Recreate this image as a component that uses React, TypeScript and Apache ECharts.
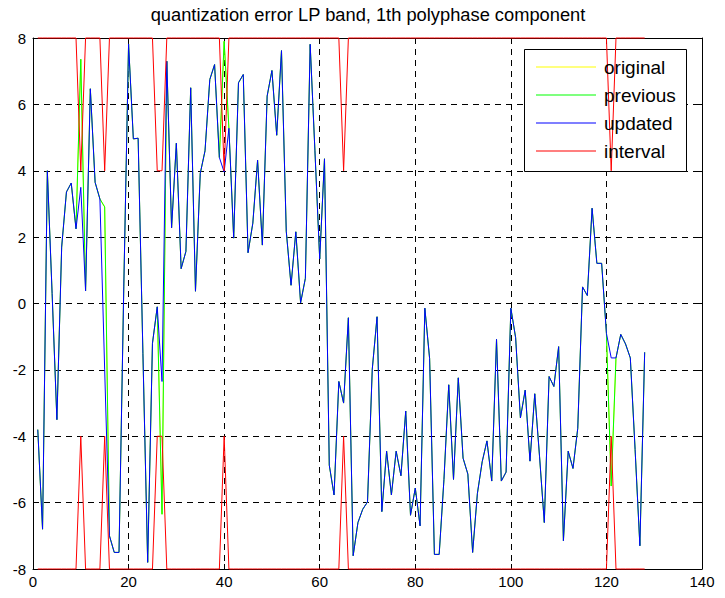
import React, { useEffect, useRef } from "react";
import * as echarts from "echarts";

// Sample index of each polyphase coefficient
const sampleCount = 128;

// Quantization error after the update step
const updated = [
  -3.8, -6.8, 4.0, 0.3, -3.5, 1.7, 3.36, 3.63, 2.25, 3.5,
  0.38, 6.47, 3.65, 3.15, -2.0, -7.0, -7.5, -7.5, 0.5, 7.82,
  4.96, 4.98, -1.5, -7.8, -1.2, -0.1, -2.35, 7.3, 2.28, 4.83,
  1.05, 1.57, 6.5, 0.37, 3.92, 4.6, 6.75, 7.2, 4.4, 3.96,
  5.28, 1.97, 6.65, 6.9, 1.53, 2.42, 4.32, 1.76, 6.25, 7.02,
  5.07, 7.62, 2.18, 0.55, 2.16, 0.02, 0.76, 7.81, 4.6, 1.34,
  4.36, -4.87, -5.77, -2.35, -3.0, -0.43, -7.6, -6.6, -6.2, -5.98,
  -1.98, -0.4, -6.27, -4.45, -5.77, -4.45, -5.19, -3.24, -6.38, -5.56,
  -6.7, -0.14, -1.66, -7.56, -7.56, -5.3, -2.45, -5.3, -2.24, -4.66,
  -5.14, -7.5, -5.72, -4.77, -4.14, -5.35, -1.08, -5.35, -5.08, -0.14,
  -1.03, -3.45, -2.61, -4.75, -2.72, -4.6, -6.6, -2.2, -2.5, -1.3,
  -7.15, -4.45, -4.97, -3.76, 0.5, 0.24, 2.87, 1.21, 1.21, -0.9,
  -1.64, -1.64, -0.93, -1.22, -1.64, -4.4, -7.3, -1.47,
];

// Quantization error of the previous iteration
const previous = [
  -3.8, -6.8, 4.0, 0.3, -3.5, 1.7, 3.36, 3.63, 2.25, 7.36,
  0.38, 6.47, 3.65, 3.15, 2.91, -7.0, -7.5, -7.5, 0.5, 7.82,
  4.96, 4.98, -1.5, -7.8, -1.2, -0.1, -6.35, 7.3, 2.28, 4.83,
  1.05, 1.57, 6.5, 0.37, 3.92, 4.6, 6.75, 7.2, 4.4, 7.9,
  5.28, 1.97, 6.65, 6.9, 1.53, 2.42, 4.32, 1.76, 6.25, 7.02,
  5.07, 7.62, 2.18, 0.55, 2.16, 0.02, 0.76, 7.81, 4.6, 1.34,
  4.36, -4.87, -5.77, -2.35, -3.0, -0.43, -7.6, -6.6, -6.2, -5.98,
  -1.98, -0.4, -6.27, -4.45, -5.77, -4.45, -5.19, -3.24, -6.38, -5.56,
  -6.7, -0.14, -1.66, -7.56, -7.56, -5.3, -2.45, -5.3, -2.24, -4.66,
  -5.14, -7.5, -5.72, -4.77, -4.14, -5.35, -1.08, -5.35, -5.08, -0.14,
  -1.03, -3.45, -2.61, -4.75, -2.72, -4.6, -6.6, -2.2, -2.5, -1.3,
  -7.15, -4.45, -4.97, -3.76, 0.5, 0.24, 2.87, 1.21, 1.21, -0.9,
  -5.5, -1.64, -0.93, -1.22, -1.64, -4.4, -7.3, -1.47,
];

// Quantization error of the original coefficients
const original = [
  -3.8, -6.8, 4.0, 0.3, -3.5, 1.7, 3.36, 3.63, 2.25, 7.36,
  0.38, 6.47, 3.65, 3.15, 2.91, -7.0, -7.5, -7.5, 0.5, 7.82,
  4.96, 4.98, -1.5, -7.8, -1.2, -0.1, -6.35, 7.3, 2.28, 4.83,
  1.05, 1.57, 6.5, 0.37, 3.92, 4.6, 6.75, 7.2, 4.4, 7.9,
  5.28, 1.97, 6.65, 6.9, 1.53, 2.42, 4.32, 1.76, 6.25, 7.02,
  5.07, 7.62, 2.18, 0.55, 2.16, 0.02, 0.76, 7.81, 4.6, 1.34,
  4.36, -4.87, -5.77, -2.35, -3.0, -0.43, -7.6, -6.6, -6.2, -5.98,
  -1.98, -0.4, -6.27, -4.45, -5.77, -4.45, -5.19, -3.24, -6.38, -5.56,
  -6.7, -0.14, -1.66, -7.56, -7.56, -5.3, -2.45, -5.3, -2.24, -4.66,
  -5.14, -7.5, -5.72, -4.77, -4.14, -5.35, -1.08, -5.35, -5.08, -0.14,
  -1.03, -3.45, -2.61, -4.75, -2.72, -4.6, -6.6, -2.2, -2.5, -1.3,
  -7.15, -4.45, -4.97, -3.76, 0.5, 0.24, 2.87, 1.21, 1.21, -0.9,
  -5.5, -1.64, -0.93, -1.22, -1.64, -4.4, -7.3, -1.47,
];

// Upper bound of the allowed interval
const intervalUpper = [
  8, 8, 8, 8, 8, 8, 8, 8, 8, 4,
  8, 8, 8, 8, 4, 8, 8, 8, 8, 8,
  8, 8, 8, 8, 8, 4, 4, 8, 8, 8,
  8, 8, 8, 8, 8, 8, 8, 8, 8, 4,
  8, 8, 8, 8, 8, 8, 8, 8, 8, 8,
  8, 8, 8, 8, 8, 8, 8, 8, 8, 8,
  8, 8, 8, 8, 4, 8, 8, 8, 8, 8,
  8, 8, 8, 8, 8, 8, 8, 8, 8, 8,
  8, 8, 8, 8, 8, 8, 8, 8, 8, 8,
  8, 8, 8, 8, 8, 8, 8, 8, 8, 8,
  8, 8, 8, 8, 8, 8, 8, 8, 8, 8,
  8, 8, 8, 8, 8, 8, 8, 8, 8, 8,
  4, 8, 8, 8, 8, 8, 8, 8,
];

// Lower bound of the allowed interval
const intervalLower = [
  -8, -8, -8, -8, -8, -8, -8, -8, -8, -4,
  -8, -8, -8, -8, -4, -8, -8, -8, -8, -8,
  -8, -8, -8, -8, -8, -4, -4, -8, -8, -8,
  -8, -8, -8, -8, -8, -8, -8, -8, -8, -4,
  -8, -8, -8, -8, -8, -8, -8, -8, -8, -8,
  -8, -8, -8, -8, -8, -8, -8, -8, -8, -8,
  -8, -8, -8, -8, -4, -8, -8, -8, -8, -8,
  -8, -8, -8, -8, -8, -8, -8, -8, -8, -8,
  -8, -8, -8, -8, -8, -8, -8, -8, -8, -8,
  -8, -8, -8, -8, -8, -8, -8, -8, -8, -8,
  -8, -8, -8, -8, -8, -8, -8, -8, -8, -8,
  -8, -8, -8, -8, -8, -8, -8, -8, -8, -8,
  -4, -8, -8, -8, -8, -8, -8, -8,
];

const titleText = "quantization error LP band, 1th polyphase component";
const legendNames = ["original", "previous", "updated", "interval"];

const FONT = '"Liberation Sans", Arial, Helvetica, sans-serif';

const toPoints = (values: number[]) =>
  values.slice(0, sampleCount).map((v, i) => [i + 1, v]);

export default function App() {
  const ref = useRef<HTMLDivElement>(null);

  useEffect(() => {
    document.body.style.margin = "0";
    if (!ref.current) return;
    const chart = echarts.init(ref.current, undefined, { renderer: "svg" });

    const lineSeries = (name: string, values: number[], color: string) => ({
      name,
      type: "line",
      data: toPoints(values),
      symbol: "none",
      clip: false,
      lineStyle: { color, width: 1 },
      itemStyle: { color },
      emphasis: { disabled: true },
    });

    const tickStyle = { inside: true, length: 5, lineStyle: { color: "#000", width: 1 } };
    const lineStyle = { show: true, onZero: false, lineStyle: { color: "#000", width: 1 } };
    const gridLine = { show: true, lineStyle: { color: "#000", width: 1, type: [6, 5] } };

    chart.setOption({
      animation: false,
      grid: { left: 33, right: 23, top: 38, bottom: 29, containLabel: false },
      graphic: [
        {
          type: "text",
          x: 368,
          y: 14,
          style: {
            text: titleText,
            fill: "#000",
            font: `18.3px ${FONT}`,
            textAlign: "center",
            textVerticalAlign: "middle",
            align: "center",
            verticalAlign: "middle",
          },
        },
        // legend frame
        {
          type: "rect",
          z: 3,
          shape: { x: 524.5, y: 49.5, width: 162, height: 122 },
          style: { fill: "#fff", stroke: "#000", lineWidth: 1 },
        },
      ],
      legend: {
        data: legendNames,
        orient: "vertical",
        left: 526,
        top: 49,
        padding: [8, 4, 8, 10],
        icon: "rect",
        itemWidth: 60,
        itemHeight: 1,
        itemGap: 8,
        z: 5,
        selectedMode: false,
        textStyle: {
          color: "#000",
          fontSize: 19,
          fontFamily: FONT,
          lineHeight: 20,
          padding: [0, 0, 0, 3],
        },
      },
      xAxis: [
        {
          type: "value",
          position: "bottom",
          min: 0,
          max: 140,
          interval: 20,
          axisLine: lineStyle,
          axisTick: tickStyle,
          axisLabel: { color: "#000", fontSize: 15, fontFamily: FONT, margin: 5 },
          splitLine: gridLine,
        },
        {
          type: "value",
          position: "top",
          min: 0,
          max: 140,
          interval: 20,
          axisLine: lineStyle,
          axisTick: tickStyle,
          axisLabel: { show: false },
          splitLine: { show: false },
        },
      ],
      yAxis: [
        {
          type: "value",
          position: "left",
          min: -8,
          max: 8,
          interval: 2,
          axisLine: lineStyle,
          axisTick: tickStyle,
          axisLabel: { color: "#000", fontSize: 15, fontFamily: FONT, margin: 7 },
          splitLine: gridLine,
        },
        {
          type: "value",
          position: "right",
          min: -8,
          max: 8,
          interval: 2,
          axisLine: lineStyle,
          axisTick: tickStyle,
          axisLabel: { show: false },
          splitLine: { show: false },
        },
      ],
      series: [
        lineSeries("original", original, "#ffff00"),
        lineSeries("previous", previous, "#00ff00"),
        lineSeries("updated", updated, "#0000ff"),
        lineSeries("interval", intervalUpper, "#ff0000"),
        lineSeries("interval", intervalLower, "#ff0000"),
      ],
    });

    return () => chart.dispose();
  }, []);

  return <div ref={ref} style={{ width: 725, height: 598 }} />;
}
